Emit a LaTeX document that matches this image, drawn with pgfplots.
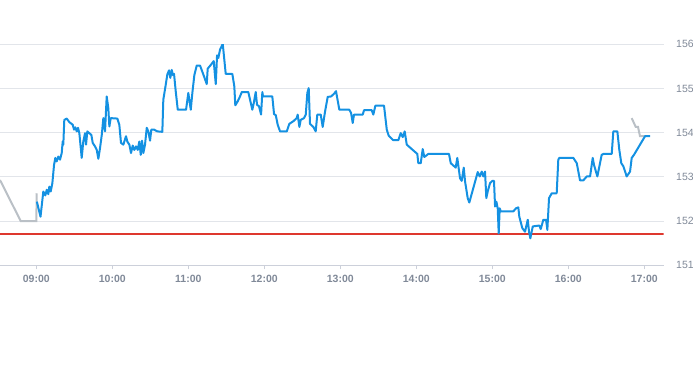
\documentclass[border=0pt]{standalone}
\usepackage{fontspec}
\setmainfont{Liberation Sans}
\usepackage{pgfplots}
\pgfplotsset{compat=1.18}
\definecolor{lineblue}{RGB}{20,145,226}
\definecolor{linegray}{RGB}{186,192,198}
\definecolor{limitred}{RGB}{222,56,46}
\definecolor{gridgray}{RGB}{226,229,234}
\definecolor{axisgray}{RGB}{204,208,218}
\definecolor{labelgray}{RGB}{128,137,152}
\begin{document}
\begin{tikzpicture}
\useasboundingbox (0pt,0pt) rectangle (693pt,365pt);
\begin{axis}[
 at={(0pt,99.7pt)}, anchor=south west,
 scale only axis, width=663.7pt, height=221pt,
 xmin=8.522, xmax=17.255, ymin=151, ymax=156,
 axis x line*=bottom, axis y line*=right,
 y axis line style={draw=none},
 x axis line style={draw=axisgray, line width=0.9pt},
 xtick={9,10,11,12,13,14,15,16,17},
 xticklabels={09:00,10:00,11:00,12:00,13:00,14:00,15:00,16:00,17:00},
 ytick={151,152,153,154,155,156},
 ymajorgrids, grid style={draw=gridgray, line width=0.9pt},
 tick align=outside, major tick length=4pt,
 xtick style={draw=axisgray, line width=0.9pt},
 ytick style={draw=none},
 /pgf/number format/assume math mode=true,
 yticklabel style={color=labelgray, font=\fontsize{10.5}{12}\selectfont, xshift=5pt},
 xticklabel style={color=labelgray, font=\bfseries\fontsize{10.5}{12}\selectfont, yshift=-2pt},
 every axis plot/.append style={no markers},
]
\addplot[color=limitred, solid, line width=1.4pt, forget plot] table {
8.522 151.71
17.255 151.71
};
\addplot[linegray, line width=2pt] coordinates {
(8.522,152.93) (8.795,152.00) (9.000,152.00) (9.005,152.63)};
\addplot[linegray, line width=2pt] coordinates {
(16.834,154.33) (16.887,154.13) (16.917,154.13) (16.943,153.92) (17.009,153.92)};
\addplot[lineblue, line width=2pt, line join=round] table {
9.007 152.44
9.055 152.10
9.092 152.67
9.118 152.58
9.137 152.71
9.158 152.61
9.171 152.78
9.189 152.67
9.211 152.86
9.233 153.27
9.250 153.43
9.268 153.35
9.289 153.46
9.312 153.39
9.334 153.54
9.347 153.80
9.355 153.73
9.368 154.29
9.400 154.32
9.434 154.24
9.479 154.18
9.496 154.07
9.513 154.12
9.532 154.03
9.549 154.11
9.566 153.99
9.597 153.43
9.618 153.80
9.641 153.99
9.654 153.73
9.671 154.03
9.697 153.99
9.724 153.95
9.742 153.77
9.772 153.69
9.795 153.61
9.816 153.41
9.838 153.65
9.861 153.95
9.882 154.33
9.904 154.03
9.926 154.82
9.947 154.56
9.961 154.14
9.979 154.33
10.066 154.32
10.092 154.18
10.114 153.77
10.145 153.73
10.180 153.92
10.197 153.80
10.224 153.73
10.246 153.54
10.268 153.71
10.289 153.61
10.312 153.69
10.334 153.61
10.355 153.80
10.374 153.50
10.391 153.82
10.408 153.54
10.430 153.73
10.453 154.11
10.474 154.03
10.496 153.82
10.513 154.07
10.549 154.07
10.592 154.03
10.658 154.02
10.671 154.75
10.693 154.98
10.724 155.32
10.746 155.41
10.763 155.24
10.782 155.42
10.799 155.30
10.812 155.33
10.834 154.94
10.861 154.52
10.970 154.52
11.000 154.90
11.032 154.52
11.053 154.90
11.079 155.30
11.111 155.52
11.154 155.52
11.197 155.32
11.242 155.10
11.255 155.45
11.299 155.54
11.334 155.62
11.361 155.10
11.378 155.75
11.395 155.69
11.417 155.88
11.453 156.01
11.492 155.33
11.579 155.33
11.605 155.05
11.618 154.62
11.650 154.71
11.680 154.82
11.703 154.92
11.789 154.92
11.842 154.52
11.861 154.67
11.887 154.92
11.904 154.63
11.930 154.60
11.957 154.41
11.974 154.92
11.983 154.82
12.105 154.82
12.128 154.42
12.150 154.40
12.176 154.18
12.207 154.03
12.295 154.03
12.329 154.20
12.382 154.26
12.426 154.33
12.439 154.41
12.461 154.13
12.479 154.29
12.522 154.33
12.545 154.41
12.566 154.90
12.584 155.01
12.601 154.20
12.645 154.13
12.676 154.03
12.697 154.41
12.742 154.41
12.768 154.13
12.799 154.48
12.834 154.81
12.878 154.82
12.917 154.88
12.943 154.94
12.987 154.52
13.118 154.52
13.141 154.45
13.163 154.22
13.180 154.41
13.295 154.41
13.312 154.51
13.413 154.51
13.434 154.41
13.461 154.61
13.575 154.61
13.611 154.07
13.637 153.93
13.697 153.83
13.763 153.83
13.795 153.99
13.821 153.90
13.847 154.03
13.874 153.73
13.953 153.61
14.013 153.52
14.026 153.31
14.058 153.31
14.084 153.63
14.105 153.45
14.158 153.52
14.430 153.52
14.453 153.31
14.518 153.21
14.539 153.43
14.575 152.97
14.597 152.91
14.624 153.21
14.641 152.90
14.676 152.52
14.697 152.42
14.808 153.11
14.834 153.01
14.861 153.12
14.882 153.01
14.904 153.12
14.921 152.52
14.939 152.67
14.970 152.86
15.000 152.91
15.022 152.91
15.036 152.33
15.053 152.44
15.071 152.29
15.084 151.72
15.097 152.29
15.111 152.22
15.276 152.22
15.312 152.29
15.342 152.31
15.355 152.10
15.395 151.84
15.430 151.76
15.466 152.03
15.483 151.76
15.500 151.61
15.532 151.88
15.618 151.90
15.637 151.82
15.671 152.03
15.707 152.03
15.724 151.80
15.746 152.52
15.782 152.63
15.847 152.63
15.868 153.39
15.882 153.43
16.066 153.43
16.111 153.31
16.154 152.92
16.197 152.92
16.242 153.01
16.286 153.01
16.321 153.43
16.338 153.27
16.382 153.01
16.439 153.50
16.462 153.52
16.571 153.52
16.592 154.03
16.645 154.03
16.671 153.61
16.697 153.31
16.724 153.24
16.768 153.01
16.812 153.12
16.834 153.43
16.864 153.50
17.009 153.92
17.075 153.92
};
\end{axis}
\end{tikzpicture}
\end{document}
